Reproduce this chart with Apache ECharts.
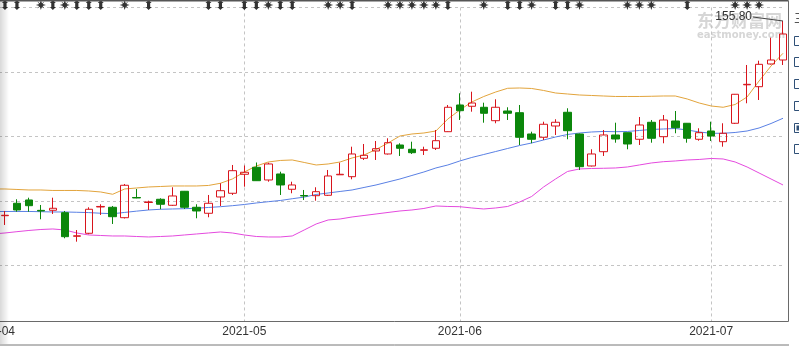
<!DOCTYPE html>
<html><head><meta charset="utf-8">
<script src="https://cdn.jsdelivr.net/npm/echarts@6/dist/echarts.min.js"></script>
<style>html,body{margin:0;padding:0;background:#fff;overflow:hidden}#c{width:799px;height:346px}</style>
</head><body><div id="c"></div>
<script>
// ---- data ----
const dates = [
 '2021-04-01','2021-04-02','2021-04-06','2021-04-07','2021-04-08','2021-04-09','2021-04-12','2021-04-13','2021-04-14','2021-04-15','2021-04-16','2021-04-19','2021-04-20','2021-04-21','2021-04-22','2021-04-23','2021-04-26','2021-04-27','2021-04-28','2021-04-29','2021-04-30',
 '2021-05-06','2021-05-07','2021-05-10','2021-05-11','2021-05-12','2021-05-13','2021-05-14','2021-05-17','2021-05-18','2021-05-19','2021-05-20','2021-05-21','2021-05-24','2021-05-25','2021-05-26','2021-05-27','2021-05-28','2021-05-31',
 '2021-06-01','2021-06-02','2021-06-03','2021-06-04','2021-06-07','2021-06-08','2021-06-09','2021-06-10','2021-06-11','2021-06-15','2021-06-16','2021-06-17','2021-06-18','2021-06-21','2021-06-22','2021-06-23','2021-06-24','2021-06-25','2021-06-28','2021-06-29','2021-06-30',
 '2021-07-01','2021-07-02','2021-07-05','2021-07-06','2021-07-07','2021-07-08','2021-07-09'
];
const opens = [
 95.2,95.44,99.29,100.31,97.09,97.12,96.37,89.06,89.99,98.14,98.05,94.82,101.08,99.53,100.53,98.67,103.01,98.05,96.19,101.24,102.39,
 108.28,110.45,106.51,108.37,103.63,101.70,101.64,101.77,108.12,107.53,113.24,115.50,114.57,117.36,116.03,115.72,116.34,121.48,
 129.76,129.36,129.05,124.89,127.90,127.37,120.77,119.75,123.25,127.50,120.77,110.85,115.28,120.46,121.17,119.13,124.40,119.93,124.80,124.09,119.13,
 121.70,118.38,124.09,136.02,135.43,142.47,143.71
];
const closes = [
 95.6,95.57,97.21,98.54,96.90,97.74,88.93,89.21,97.43,98.30,95.13,104.87,100.93,99.69,98.98,101.55,98.05,96.90,99.29,103.19,109.39,
 108.90,106.29,111.47,104.96,104.96,101.55,102.88,107.75,108.28,114.57,114.17,116.21,118.07,116.34,114.97,115.87,118.69,129.05,
 127.99,130.38,127.19,129.05,127.19,119.75,119.13,123.78,124.40,121.79,110.63,114.57,120.46,119.22,117.67,123.56,119.44,125.11,122.72,119.44,121.17,
 120.15,120.99,133.08,136.17,142.37,143.71,151.77
];
const lows = [
 94.8,92.56,96.68,96.68,94.33,95.97,88.44,87.38,89.68,95.66,92.87,94.57,100.84,97.21,97.43,98.45,97.52,94.64,94.95,98.45,101.86,
 104.43,106.20,105.98,101.86,102.39,100.31,100.09,101.55,108.06,106.73,112.71,112.71,114.41,113.95,114.57,114.26,115.81,121.39,
 125.11,127.68,124.27,124.09,125.11,117.36,117.89,118.91,120.46,119.13,109.61,110.70,113.95,118.07,116.03,117.36,118.07,117.89,120.99,118.07,118.69,
 118.60,116.83,123.87,130.29,131.31,142.31,142.16
];
const highs = [
 96.5,96.90,100.53,101.02,98.76,101.02,96.90,90.99,98.05,98.98,98.45,105.27,103.72,100.09,100.84,104.25,103.10,98.98,101.86,105.49,111.16,
 111.00,111.93,111.87,109.08,105.98,103.41,104.25,109.61,111.87,116.83,117.67,118.60,119.44,117.89,118.38,116.83,122.01,129.76,
 133.39,133.88,130.47,131.53,129.05,129.76,121.48,124.58,125.33,128.74,120.92,116.03,122.01,124.27,121.23,126.04,125.11,126.66,127.90,124.18,122.54,
 124.58,124.09,133.17,142.16,143.49,150.62,155.80
];
const upperBand = [
 103.72,103.72,103.57,103.41,103.41,103.26,103.26,103.26,103.10,102.79,102.08,103.72,104.03,104.34,104.49,104.65,104.65,104.65,104.81,105.49,106.82,
 108.99,110.85,112.09,112.56,112.71,111.94,111.16,111.47,112.09,113.33,114.26,115.96,117.98,120.15,120.77,121.08,121.70,125.42,
 128.21,130.69,132.39,133.79,134.94,135.03,134.88,134.26,133.48,133.17,132.86,132.71,132.55,132.40,132.40,132.40,132.46,132.55,132.55,131.62,130.38,
 129.45,129.05,129.91,132.24,137.20,141.85,145.79
];
const midBand = [
 96.75,96.75,96.75,96.75,96.68,96.59,96.59,96.50,96.40,96.20,96.05,96.45,96.85,97.21,97.43,97.52,97.61,97.74,97.99,98.23,98.54,
 98.91,99.38,99.78,100.15,100.70,101.20,102.02,102.48,102.95,103.41,104.19,104.96,105.89,106.82,107.91,108.99,110.23,111.16,
 112.40,113.49,114.41,115.34,116.28,117.20,117.98,118.91,119.84,120.62,121.08,121.39,121.55,121.48,121.55,121.86,122.17,122.32,122.48,122.01,121.39,
 120.99,120.99,121.24,121.70,122.63,124.02,125.64
];
const lowerBand = [
 89.77,90.08,90.48,90.86,91.16,91.32,91.01,90.08,89.46,89.30,89.15,89.15,88.99,88.84,88.99,89.15,89.46,89.77,90.08,90.39,90.08,
 89.46,88.99,88.84,88.84,89.15,91.01,92.87,94.11,94.42,95.04,95.50,95.97,96.44,96.90,97.21,97.68,98.45,98.30,
 98.23,97.83,97.52,97.83,98.30,99.69,101.39,104.34,106.82,109.15,109.92,110.07,110.14,110.23,110.54,111.16,111.78,112.18,112.40,112.71,112.87,
 113.18,113.02,112.09,110.54,108.68,106.82,104.96
];
const starDates = ['2021-04-08','2021-04-12','2021-04-19','2021-05-10','2021-05-17','2021-05-18','2021-05-24','2021-05-25','2021-05-26','2021-05-27','2021-05-28','2021-06-03','2021-06-09','2021-06-16','2021-06-22','2021-06-23','2021-06-24','2021-07-05','2021-07-06','2021-07-07'];
const arrowDates = ['2021-04-02','2021-04-06','2021-04-09','2021-04-13','2021-04-14','2021-04-15','2021-04-21','2021-04-28','2021-04-29','2021-05-06','2021-05-07','2021-05-11','2021-05-12','2021-05-19','2021-05-31','2021-06-07','2021-06-08','2021-06-11','2021-06-15','2021-06-29'];
const signalLevel = 160.76;
const maxHigh = 155.80;
const maxLabel = '155.80';

// ---- chart ----
const isMonthStart = (i) => i === 0 || dates[i].slice(0, 7) !== dates[i - 1].slice(0, 7);
const candleData = dates.map((d, i) => [opens[i], closes[i], lows[i], highs[i]]);
const starPath = 'path://M5,0L6.1,3.3L8.54,1.46L6.7,3.9L10,5L6.7,6.1L8.54,8.54L6.1,6.7L5,10L3.9,6.7L1.46,8.54L3.3,6.1L0,5L3.3,3.9L1.46,1.46L3.9,3.3Z';
const arrowPath = 'path://M3,0L6,3L4.6,3L4.6,7L6,7L3,10L0,7L1.4,7L1.4,3L0,3Z';
const dash = { color: '#c4c4c4', type: [3, 3], width: 1 };

const chart = echarts.init(document.getElementById('c'), null, { renderer: 'canvas' });
chart.setOption({
  animation: false,
  grid: { left: -7, right: 16, top: 7.45, bottom: 25, containLabel: false, outerBoundsMode: 'none' },
  xAxis: {
    type: 'category', data: dates, boundaryGap: false,
    axisLine: { show: false }, axisTick: { show: false },
    axisLabel: { interval: (i) => isMonthStart(i), formatter: (v) => v.slice(0, 7), color: '#333', fontSize: 12, fontFamily: 'Liberation Sans', margin: 5, hideOverlap: false },
    splitLine: { show: true, interval: (i) => isMonthStart(i), lineStyle: dash }
  },
  yAxis: [
    { type: 'value', min: 62.79, max: 160, show: false, splitLine: { show: false } },
    { type: 'value', inverse: true, min: 0, max: 97.21, interval: 20,
      axisLine: { show: false }, axisTick: { show: false }, axisLabel: { show: false },
      splitLine: { show: true, showMaxLine: false, lineStyle: dash } }
  ],
  series: [
    { type: 'line', data: upperBand, symbol: 'none', lineStyle: { color: '#e2a43c', width: 1 }, z: 1, silent: true },
    { type: 'line', data: midBand, symbol: 'none', lineStyle: { color: '#5a80e4', width: 1 }, z: 1, silent: true },
    { type: 'line', data: lowerBand, symbol: 'none', lineStyle: { color: '#e44ade', width: 1 }, z: 1, silent: true },
    { type: 'candlestick', data: candleData, barWidth: 8, clip: false, z: 2,
      itemStyle: { color: 'rgba(255,255,255,0)', color0: '#0b870b', borderColor: '#d8141c', borderColor0: '#0b870b', borderWidth: 1 },
      markLine: { silent: true, symbol: ['none', 'arrow'], symbolSize: [0, 7], animation: false,
        lineStyle: { color: '#444', width: 1, type: 'solid' },
        label: { show: true, position: 'start', formatter: maxLabel, color: '#333', fontSize: 12, fontFamily: 'Liberation Sans', distance: 1 },
        data: [[{ x: 753, y: 17 }, { coord: [dates[dates.length - 1], maxHigh] }]] } },
    { type: 'scatter', data: starDates.map(d => [d, signalLevel]), symbol: starPath, symbolSize: [10, 10], itemStyle: { color: '#000' }, clip: false, silent: true, z: 5 },
    { type: 'scatter', data: arrowDates.map(d => [d, signalLevel]), symbol: arrowPath, symbolSize: [6, 10], itemStyle: { color: '#000' }, clip: false, silent: true, z: 5 }
  ],
  graphic: [
    { type: 'text', x: 697, y: 12, z: -1, silent: true, style: { text: '东方财富网', font: 'bold 17px "Noto Sans CJK SC"', fill: '#d6d6d6' } },
    { type: 'text', x: 697, y: 30, z: -1, silent: true, style: { text: 'eastmoney.com', font: 'bold 10px "DejaVu Sans"', fill: '#d6d6d6' } },
    { type: 'rect', silent: true, z: 100, shape: { x: 0, y: 0, width: 9, height: 344 },
      style: { fill: new echarts.graphic.LinearGradient(0, 0, 1, 0, [{ offset: 0, color: 'rgba(0,0,0,0.15)' }, { offset: 1, color: 'rgba(0,0,0,0)' }]) } },
    { type: 'polyline', silent: true, z: 50, shape: { points: [[0, 0.5], [788.5, 0.5], [788.5, 321.5], [0, 321.5]] }, style: { stroke: '#6a6a6a', lineWidth: 1, fill: null } },
    { type: 'line', silent: true, z: 50, shape: { x1: 0, y1: 0.5, x2: 788, y2: 0.5 }, style: { stroke: '#555', lineWidth: 2 } },
    { type: 'line', silent: true, z: 50, shape: { x1: 0, y1: 345, x2: 789, y2: 345 }, style: { stroke: '#777', lineWidth: 1 } },
    { type: 'text', x: 794, y: 12, silent: true, style: { text: '三', font: '12px "Noto Sans CJK SC"', fill: '#555' } },
    { type: 'rect', silent: true, shape: { x: 794.5, y: 36.5, width: 9, height: 9 }, style: { fill: '#fff', stroke: '#2f5077', lineWidth: 1 } },
    { type: 'rect', silent: true, shape: { x: 794.5, y: 57.5, width: 9, height: 9 }, style: { fill: '#fff', stroke: '#2f5077', lineWidth: 1 } },
    { type: 'rect', silent: true, shape: { x: 794.5, y: 79.5, width: 9, height: 9 }, style: { fill: '#fff', stroke: '#2f5077', lineWidth: 1 } },
    { type: 'rect', silent: true, shape: { x: 794.5, y: 101.5, width: 9, height: 9 }, style: { fill: '#fff', stroke: '#2f5077', lineWidth: 1 } },
    { type: 'rect', silent: true, shape: { x: 794.5, y: 123.5, width: 9, height: 9 }, style: { fill: '#fff', stroke: '#2f5077', lineWidth: 1 } },
    { type: 'rect', silent: true, shape: { x: 796.5, y: 125.5, width: 5, height: 5 }, style: { fill: '#2f5077' } },
    { type: 'rect', silent: true, shape: { x: 794.5, y: 144.5, width: 9, height: 9 }, style: { fill: '#fff', stroke: '#2f5077', lineWidth: 1 } }
  ]
});
</script>
</body></html>
